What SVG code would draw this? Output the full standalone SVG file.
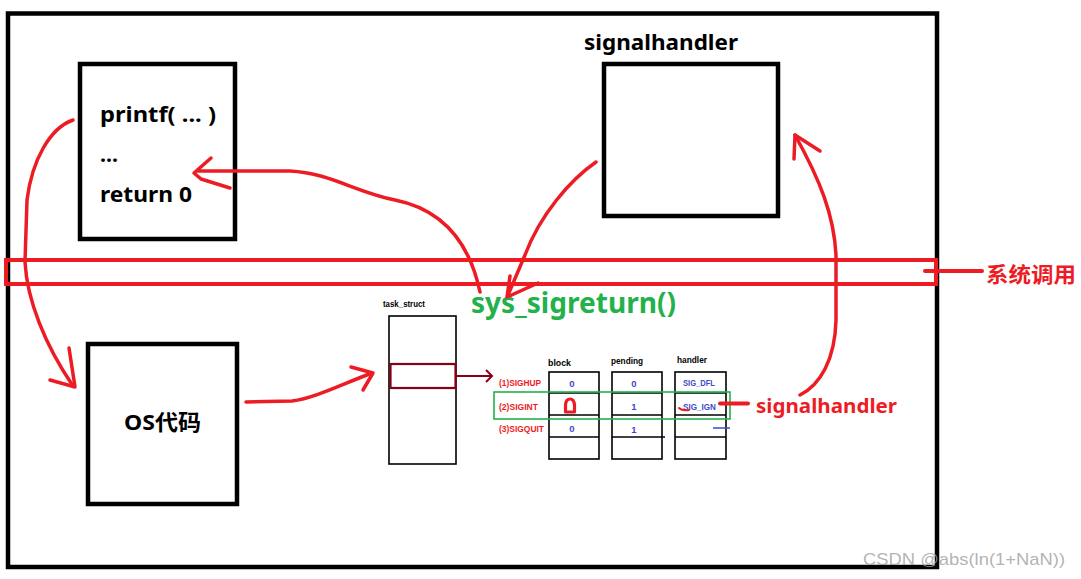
<svg xmlns="http://www.w3.org/2000/svg" width="1081" height="579" viewBox="0 0 1081 579">
  <style>
    .box { fill: none; stroke: #000; stroke-width: 4.5; }
    .thin { fill: none; stroke: #000; stroke-width: 1.6; }
    .red { fill: none; stroke: #ed1c24; stroke-width: 3.5; stroke-linecap: round; stroke-linejoin: round; }
    .bigtxt { font-family: "Noto Sans", "Open Sans", "Noto Sans CJK SC", sans-serif; font-weight: bold; }
    .small { font-family: "Liberation Sans", "Noto Sans CJK SC", sans-serif; font-size: 9.5px; }
    .semi { font-weight: bold; }
    .blue { fill: #3f48cc; }
    .redtxt { fill: #ed1c24; }
  </style>
  <rect width="1081" height="579" fill="#fff"/>

  <g id="outer">
    <rect x="8" y="13.5" width="929" height="553.5" class="box"/>
  </g>

  <g id="syscall-band">
    <rect x="6" y="260" width="930" height="24" fill="none" stroke="#ed1c24" stroke-width="4"/>
    <line x1="925" y1="271" x2="982" y2="271" stroke="#ed1c24" stroke-width="4" stroke-linecap="round"/>
    <text x="986" y="282" class="bigtxt" font-size="21" fill="#ed1c24" textLength="90" lengthAdjust="spacingAndGlyphs">系统调用</text>
  </g>

  <g id="user-code">
    <rect x="80" y="64" width="155" height="175" class="box"/>
    <text x="100" y="122" class="bigtxt" font-size="22" textLength="116" lengthAdjust="spacingAndGlyphs">printf( ... )</text>
    <text x="100" y="162" class="bigtxt" font-size="22" textLength="18" lengthAdjust="spacingAndGlyphs">...</text>
    <text x="100" y="202" class="bigtxt" font-size="22" textLength="92" lengthAdjust="spacingAndGlyphs">return 0</text>
  </g>

  <g id="signalhandler">
    <text x="584" y="50" class="bigtxt" font-size="22" textLength="154" lengthAdjust="spacingAndGlyphs">signalhandler</text>
    <rect x="604" y="64" width="174" height="152" class="box"/>
  </g>

  <g id="os-code">
    <rect x="88" y="344" width="149" height="160" class="box"/>
    <text x="124" y="430" class="bigtxt" font-size="22" textLength="77" lengthAdjust="spacingAndGlyphs">OS代码</text>
  </g>

  <g id="sys-sigreturn">
    <text x="471" y="313" class="bigtxt" font-size="28" fill="#22b14c" textLength="205" lengthAdjust="spacingAndGlyphs">sys_sigreturn()</text>
  </g>

  <g id="task-struct">
    <text x="383" y="307" class="small semi" font-size="9" textLength="42" lengthAdjust="spacingAndGlyphs">task_struct</text>
    <rect x="389" y="316" width="67" height="148" class="thin"/>
    <rect x="390.5" y="364" width="65" height="24" fill="none" stroke="#880015" stroke-width="2.2"/>
  </g>

  <g id="signal-table">
    <text x="548" y="366" class="small semi" textLength="23" lengthAdjust="spacingAndGlyphs">block</text>
    <text x="611" y="364" class="small semi" textLength="32" lengthAdjust="spacingAndGlyphs">pending</text>
    <text x="677" y="363" class="small semi" textLength="30" lengthAdjust="spacingAndGlyphs">handler</text>

    <rect x="549" y="372" width="50" height="87" class="thin" stroke-width="2"/>
    <line x1="549" y1="393" x2="599" y2="393" class="thin"/>
    <line x1="549" y1="415" x2="599" y2="415" class="thin" stroke-width="2"/>
    <line x1="549" y1="437" x2="599" y2="437" class="thin" stroke-width="2"/>

    <rect x="612" y="372" width="50" height="87" class="thin" stroke-width="2"/>
    <line x1="612" y1="393" x2="662" y2="393" class="thin"/>
    <line x1="612" y1="415" x2="662" y2="415" class="thin" stroke-width="2"/>
    <line x1="612" y1="437" x2="665" y2="437" class="thin" stroke-width="2"/>

    <rect x="675" y="372" width="51" height="87" class="thin" stroke-width="2"/>
    <line x1="675" y1="393" x2="726" y2="393" class="thin"/>
    <line x1="675" y1="415" x2="726" y2="415" class="thin" stroke-width="2"/>
    <line x1="675" y1="437" x2="726" y2="437" class="thin" stroke-width="2"/>

    <text x="499" y="386" class="small semi redtxt" textLength="42" lengthAdjust="spacingAndGlyphs">(1)SIGHUP</text>
    <text x="499" y="410" class="small semi redtxt" textLength="39" lengthAdjust="spacingAndGlyphs">(2)SIGINT</text>
    <text x="499" y="432" class="small semi redtxt" textLength="45" lengthAdjust="spacingAndGlyphs">(3)SIGQUIT</text>

    <text x="572" y="387" class="small semi blue" text-anchor="middle">0</text>
    <text x="634" y="387" class="small semi blue" text-anchor="middle">0</text>
    <text x="634" y="410" class="small semi blue" text-anchor="middle">1</text>
    <text x="572" y="432" class="small semi blue" text-anchor="middle">0</text>
    <text x="634" y="433" class="small semi blue" text-anchor="middle">1</text>
    <text x="683" y="386" class="small semi blue" textLength="32" lengthAdjust="spacingAndGlyphs">SIG_DFL</text>
    <text x="683" y="410" class="small semi blue" textLength="33" lengthAdjust="spacingAndGlyphs">SIG_IGN</text>

    <path d="M565.5,412 L565.5,405 Q566,399 570,399 Q574,399 574.5,405 L574.5,412 Z" fill="none" stroke="#ed1c24" stroke-width="3.2" stroke-linejoin="round"/>
    <path d="M679,408 Q682,411 689,410" fill="none" stroke="#ed1c24" stroke-width="2" stroke-linecap="round"/>
    <rect x="494" y="392" width="236" height="27" fill="none" stroke="#22b14c" stroke-width="1.6"/>
    <line x1="713" y1="428" x2="730" y2="428" stroke="#3f48cc" stroke-width="1.5"/>
  </g>

  <g id="label-signalhandler">
    <line x1="720" y1="403.5" x2="748" y2="403.5" stroke="#ed1c24" stroke-width="4" stroke-linecap="round"/>
    <text x="756" y="413" class="bigtxt" font-size="20" fill="#ed1c24" textLength="141" lengthAdjust="spacingAndGlyphs">signalhandler</text>
  </g>

  <g id="connectors">
    <path class="red" d="M73,120 C50,128 32,160 27,200 L25,262 C27,300 45,345 73,386"/>
    <polyline class="red" points="69,348 75,387 50,380"/>

    <path class="red" d="M480,292 C470,245 445,210 395,200 C355,192 330,173 290,171 L198,171"/>
    <polyline class="red" points="211,158 194,173 201,179 230,188"/>

    <path class="red" d="M596,162 C570,180 540,215 525,255 L508,295"/>
    <polyline class="red" points="510,276 507,297 538,283"/>

    <path class="red" d="M246,402 L292,401 C315,398 340,385 372,373"/>
    <polyline class="red" points="351,367 373,373 363,390"/>

    <path class="red" d="M800,395 C820,385 835,360 836,320 L836,255 C834,215 820,180 795,135"/>
    <polyline class="red" points="794,159 795,135 820,151"/>

    <line x1="456" y1="376" x2="492" y2="376" stroke="#880015" stroke-width="2"/>
    <polyline points="486,370 492,376 486,382" fill="none" stroke="#880015" stroke-width="2"/>
  </g>

  <g id="watermark">
    <text x="863" y="565" font-family="Liberation Sans, Arial, sans-serif" font-size="17" fill="#a0a0a0" fill-opacity="0.8" textLength="202" lengthAdjust="spacingAndGlyphs">CSDN @abs(ln(1+NaN))</text>
  </g>
</svg>
